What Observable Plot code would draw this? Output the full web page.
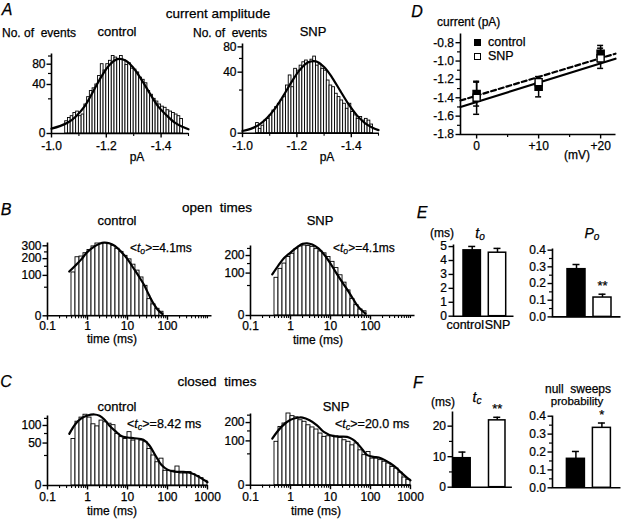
<!DOCTYPE html>
<html>
<head>
<meta charset="utf-8">
<script src="https://cdn.jsdelivr.net/npm/d3@7"></script>
<script src="https://cdn.jsdelivr.net/npm/@observablehq/plot@0.6"></script>
<style>
  html, body { margin: 0; padding: 0; background: #fff; }
  #fig { position: relative; width: 624px; height: 520px; overflow: hidden; background: #fff;
         font-family: "Liberation Sans", Arial, Helvetica, sans-serif; color: #000; }
  .t { position: absolute; white-space: nowrap; line-height: 1; -webkit-text-stroke: 0.25px #000; }
  .p { position: absolute; }
  .p svg { display: block; }
  .p svg text { stroke: #000; stroke-width: 0.25px; }
  sub { font-size: 72%; vertical-align: -0.2em; line-height: 0; }
</style>
</head>
<body>
<div id="fig"></div>
<script>
// ================= DATA =================
// A: current amplitude histograms (pA bins, counts)
const ampBinEdges = [-1.05,-1.06,-1.07,-1.08,-1.09,-1.10,-1.11,-1.12,-1.13,-1.14,-1.15,-1.16,-1.17,-1.18,-1.19,-1.20,-1.21,-1.22,-1.23,-1.24,-1.25,-1.26,-1.27,-1.28,-1.29,-1.30,-1.31,-1.32,-1.33,-1.34,-1.35,-1.36,-1.37,-1.38,-1.39,-1.40,-1.41,-1.42,-1.43,-1.44,-1.45,-1.46,-1.47,-1.48];
const ampControlCounts = [2.5,4,5,7,8, 5,6,14,22,30, 34,40,55,80,66, 80,88,100,96,92, 100,90,78,82,70, 68,62,52,48,42, 30,25,20,17,14, 12,11,9,8,7, 6,5,3.5];
const ampSnpCounts = [1.1,0.2,0.6,1.7,2.2, 3.4,5.5,7.3,9.3,11.5, 13.9,24.4,35.8,22.7,44.5, 42,49,54,56.7,54, 58,63,49,51,44.5, 42,29.8,24.4,22.7,16.7, 14,11.5,9.3,6.4,9.3, 4.8,3.4,2.2,2.8,1.7, 2.2,1.7,0.8];
const ampFitX = [-1.00,-1.03,-1.06,-1.09,-1.12,-1.15,-1.18,-1.21,-1.24,-1.27,-1.30,-1.33,-1.36,-1.39,-1.42,-1.45,-1.48,-1.50];
const ampControlFit = [0.4,0.9,2,5,12,28,52,77,92,89,71,47,26,12,5.5,2,0.7,0.3];
const ampSnpFit = [0.05,0.2,0.75,2.5,6.6,15,28,42.7,53.6,55.4,47,33,19,9,3.5,1.1,0.3,0.1];
const ampTicks = [-1.0,-1.2,-1.4];
const ampTicksMinor = [-1.1,-1.3,-1.5];

// B/C: dwell-time histograms, log bins (ms)
const logBinEdges = [0.398,0.501,0.631,0.794,1,1.26,1.58,2.0,2.51,3.16,3.98,5.01,6.31,7.94,10,12.6,15.8,20.0,25.1,31.6,39.8,50.1,63.1,79.4,100,126,158,200,251,316,398,501,631,794,1000];
const openControlCounts = [115,210,215,240,265,295,320,318,325,315,300,275,250,220,195,160,125,90,55,17,8,3,1];
const openSnpCounts = [79,121,150,190,212,245,265,272,268,262,245,228,215,190,160,125,90,60,35,15,6,2,1];
const openFitT = [0.35,0.5,0.7,1.0,1.5,2.0,2.6,3.5,5,7,10,14,20,26,35,46,60,75];
const openControlFit = [120,155,195,250,295,318,328,322,295,250,197,140,90,58,25,8,1.5,0.2];
const openSnpFit = [94,140,185,220,262,285,290,280,250,205,150,100,60,38,18,6,1.5,0.2];
const closedControlCounts = [60,113,128,139,128,104,97,117,111,106,101,74,65,60,79,56,60,56,52,37,25,15,20,6,6,6,10,4,4,5,3.5,2.5,1.5,0.6];
const closedSnpCounts = [96,173,194,262,243,235,215,205,183,170,158,136,119,122,125,122,114,103,96,81,89,62,46,56,36,36,32,28,24,17,14,8,3,1.5];
const closedControlFitT = [0.35,0.5,0.7,1.0,1.5,2,2.6,3.5,5,7,10,15,25,35,50,70,100,150,250,400,600,1000];
const closedControlFit = [74,105,125,136,140,135,122,100,82,68,64,62,58,45,25,12,7,5.3,5.2,4.2,2.2,0.3];
const closedSnpFitT = [0.35,0.6,1.0,1.5,2.0,3.0,4.6,6.8,12,26,35,47,65,83,120,162,230,316,450,562,750,1000];
const closedSnpFit = [111,175,218,232,233,215,183,145,122,119,108,89,62,46,41,39,32,24,15,9,4,1.2];
const logTicks = [0.1,1,10,100];
const logTicksC = [0.1,1,10,100,1000];
const logDecades = [0.1,1,10,100];
const logMultipliers = [2,3,4,5,6,7,8,9];

// D: current-voltage
const ivVoltage = [0,10,20];
const ivControl = [-1.36,-1.28,-0.92];
const ivControlSem = [0.13,0.11,0.09];
const ivSnp = [-1.40,-1.23,-0.97];
const ivSnpSem = [0.18,0.06,0.11];
const ivFitV = [-2.6,22.4];
const ivFitControl = [-1.43,-0.92];
const ivFitSnp = [-1.50,-0.975];
const ivYTicks = [-0.8,-1.0,-1.2,-1.4,-1.6,-1.8];
const ivYMinor = [-0.9,-1.1,-1.3,-1.5,-1.7];
const ivXTicks = [0,10,20];
const ivXLabels = ["0","+10","+20"];
const ivXMinor = [5,15];

// E/F: summary bars
const groups = ["control","SNP"];
const toMean = [4.73,4.56], toSem = [0.28,0.31];
const poMean = [0.286,0.116], poSem = [0.028,0.02], poStars = ["","**"];
const tcMean = [9.5,21.9], tcSem = [2.0,1.0], tcStars = ["","**"];
const nullMean = [0.162,0.335], nullSem = [0.041,0.027], nullStars = ["","*"];

// ================= LAYOUT =================
const FONT = '"Liberation Sans", Arial, Helvetica, sans-serif';
const fig = document.getElementById("fig");
const M = {l: 46, r: 14, t: 14, b: 30};
const FR = {
  ampCtl: {L: 51, T: 53, W: 137, H: 80},
  ampSnp: {L: 242, T: 43.3, W: 136, H: 89.7},
  openCtl: {L: 46.7, T: 241.7, W: 164, H: 73.3},
  openSnp: {L: 250, T: 245, W: 164, H: 70},
  closCtl: {L: 46.7, T: 415, W: 160, H: 70},
  closSnp: {L: 250, T: 413.3, W: 160, H: 71.7},
  iv: {L: 460, T: 33, W: 155, H: 101},
  to: {L: 453.3, T: 244, W: 60, H: 71.7},
  po: {L: 551.7, T: 248.3, W: 68, H: 68.4},
  tc: {L: 452.3, T: 411, W: 59.4, H: 75.7},
  nul: {L: 552.3, T: 415, W: 68, H: 72.3}
};

function makePlot(fr, spec) {
  const svg = Plot.plot({
    width: M.l + fr.W + M.r,
    height: M.t + fr.H + M.b,
    marginLeft: M.l, marginRight: M.r, marginTop: M.t, marginBottom: M.b,
    style: {background: "none", overflow: "visible", fontFamily: FONT, fontSize: "12px", color: "#000", maxWidth: "none"},
    ...spec
  });
  const wrap = document.createElement("div");
  wrap.className = "p";
  wrap.style.left = (fr.L - M.l) + "px";
  wrap.style.top = (fr.T - M.t) + "px";
  wrap.appendChild(svg);
  fig.appendChild(wrap);
}
function axisLines(fr) {
  const s = fr.W + fr.H;
  return Plot.frame({stroke: "#000", strokeWidth: 1.6, strokeDasharray: `0 ${s} ${s}`});
}
const blank = () => "";

function histPanel(fr, o) {
  const bins = o.vals.map((v, i) => ({x1: o.edges[i], x2: o.edges[i + 1], v}));
  const fit = o.fitX.map((x, i) => ({x, v: o.fitY[i]}));
  makePlot(fr, {
    x: {type: o.xType, domain: o.xDomain},
    y: {type: "sqrt", domain: [0, o.yMax]},
    marks: [
      Plot.rectY(bins, {x1: "x1", x2: "x2", y1: 0, y2: "v", fill: "white", stroke: "black", strokeWidth: 0.9}),
      Plot.line(fit, {x: "x", y: "v", stroke: "black", strokeWidth: 2.2, curve: "catmull-rom"}),
      axisLines(fr),
      Plot.axisY({ticks: o.yTicks, tickSize: 4.5, tickPadding: 1.5, strokeWidth: 1.4, label: null}),
      Plot.axisY({ticks: o.yMinor, tickSize: 3, tickFormat: blank, strokeWidth: 1.2, label: null}),
      Plot.axisX({ticks: o.xTicks, tickSize: 4.5, tickPadding: o.xPad ?? 2.5, tickFormat: o.xFmt, strokeWidth: 1.4, label: null}),
      Plot.axisX({ticks: o.xMinor, tickSize: 3, tickFormat: blank, strokeWidth: 1.1, label: null})
    ]
  });
}

const fmt1 = d => d.toFixed(1);
const logFmt = d => String(d);
const logMinor = logDecades.flatMap(d => logMultipliers.map(m => +(d * m).toPrecision(3)));

// A
histPanel(FR.ampCtl, {edges: ampBinEdges, vals: ampControlCounts, fitX: ampFitX, fitY: ampControlFit,
  xType: "linear", xDomain: [-1.0, -1.5], yMax: 106.6, yTicks: [0,40,80], yMinor: [20,60,100],
  xTicks: ampTicks, xMinor: ampTicksMinor, xFmt: fmt1, xPad: 3.8});
histPanel(FR.ampSnp, {edges: ampBinEdges, vals: ampSnpCounts, fitX: ampFitX, fitY: ampSnpFit,
  xType: "linear", xDomain: [-1.0, -1.5], yMax: 86.4, yTicks: [0,40,80], yMinor: [20,60],
  xTicks: ampTicks, xMinor: ampTicksMinor, xFmt: fmt1, xPad: 3.8});
// B
histPanel(FR.openCtl, {edges: logBinEdges, vals: openControlCounts, fitX: openFitT, fitY: openControlFit,
  xType: "log", xDomain: [0.1, 1259], yMax: 329, yTicks: [0,100,200,300], yMinor: [50,150,250],
  xTicks: logTicks, xMinor: logMinor.concat([1000]), xFmt: logFmt, xPad: 1.5});
histPanel(FR.openSnp, {edges: logBinEdges, vals: openSnpCounts, fitX: openFitT, fitY: openSnpFit,
  xType: "log", xDomain: [0.1, 1259], yMax: 272.5, yTicks: [0,100,200], yMinor: [50,150,250],
  xTicks: logTicks, xMinor: logMinor.concat([1000]), xFmt: logFmt, xPad: 1.5});
// C
histPanel(FR.closCtl, {edges: logBinEdges, vals: closedControlCounts, fitX: closedControlFitT, fitY: closedControlFit,
  xType: "log", xDomain: [0.1, 1000], yMax: 136, yTicks: [0,50,100], yMinor: [25,75,125],
  xTicks: logTicksC, xMinor: logMinor, xFmt: logFmt});
histPanel(FR.closSnp, {edges: logBinEdges, vals: closedSnpCounts, fitX: closedSnpFitT, fitY: closedSnpFit,
  xType: "log", xDomain: [0.1, 1000], yMax: 262, yTicks: [0,100,200], yMinor: [50,150,250],
  xTicks: logTicksC, xMinor: logMinor, xFmt: logFmt});

// D
(function () {
  const fr = FR.iv;
  const ctl = ivVoltage.map((v, i) => ({v, y: ivControl[i], e: ivControlSem[i]}));
  const snp = ivVoltage.map((v, i) => ({v, y: ivSnp[i], e: ivSnpSem[i]}));
  const fitC = ivFitV.map((v, i) => ({v, y: ivFitControl[i]}));
  const fitS = ivFitV.map((v, i) => ({v, y: ivFitSnp[i]}));
  const cap = 3 * 25 / fr.W; // half cap width (px) in mV
  const errMarks = rows => [
    Plot.ruleX(rows, {x: "v", y1: d => d.y - d.e, y2: d => d.y + d.e, strokeWidth: 1.5}),
    Plot.ruleY(rows, {y: d => d.y + d.e, x1: d => d.v - cap, x2: d => d.v + cap, strokeWidth: 1.5}),
    Plot.ruleY(rows, {y: d => d.y - d.e, x1: d => d.v - cap, x2: d => d.v + cap, strokeWidth: 1.5})
  ];
  makePlot(fr, {
    x: {domain: [-2.6, 22.4]},
    y: {domain: [-1.8, -0.7]},
    marks: [
      Plot.line(fitS, {x: "v", y: "y", strokeWidth: 2.2}),
      Plot.line(fitC, {x: "v", y: "y", strokeWidth: 2.2, strokeDasharray: "5,3"}),
      ...errMarks(ctl), ...errMarks(snp),
      Plot.dot(ctl, {x: "v", y: "y", symbol: "square", r: 4, fill: "black", stroke: "black"}),
      Plot.dot(snp, {x: "v", y: "y", symbol: "square", r: 4, fill: "white", stroke: "black", strokeWidth: 1.4}),
      axisLines(fr),
      Plot.axisY({ticks: ivYTicks, tickSize: 4.5, tickPadding: 2, tickFormat: fmt1, strokeWidth: 1.4, label: null}),
      Plot.axisY({ticks: ivYMinor, tickSize: 3, tickFormat: blank, strokeWidth: 1.2, label: null}),
      Plot.axisX({ticks: ivXTicks, tickSize: 4.5, tickPadding: 2, tickFormat: d => ivXLabels[ivXTicks.indexOf(d)], strokeWidth: 1.4, label: null}),
      Plot.axisX({ticks: ivXMinor, tickSize: 3, tickFormat: blank, strokeWidth: 1.2, label: null})
    ]
  });
})();

// E / F
function barPanel(fr, o) {
  const svgL = fr.L - M.l;
  const step = (o.bars[1] - o.bars[0]) - o.bw;
  const rows = groups.map((g, i) => ({g, v: o.mean[i], e: o.sem[i], s: o.stars ? o.stars[i] : ""}));
  const capInset = (o.bw - 7) / 2;
  const marks = [
    Plot.ruleX(rows, {x: "g", y1: "v", y2: d => d.v + d.e, strokeWidth: 1.5}),
    Plot.tickY(rows, {x: "g", y: d => d.v + d.e, insetLeft: capInset, insetRight: capInset, strokeWidth: 1.5}),
    Plot.barY(rows.filter(d => d.g === "control"), {x: "g", y1: 0, y2: "v", fill: "black", stroke: "black", strokeWidth: 1.5}),
    Plot.barY(rows.filter(d => d.g === "SNP"), {x: "g", y1: 0, y2: "v", fill: "white", stroke: "black", strokeWidth: 1.5}),
    Plot.text(rows.filter(d => d.s), {x: "g", y: d => d.v + d.e, text: "s", dy: o.starDy || -8, fontSize: 13}),
    axisLines(fr),
    Plot.axisY({ticks: o.yTicks, tickSize: 4.5, tickPadding: 2, tickFormat: o.fmt, strokeWidth: 1.4, label: null}),
    o.yMinor ? Plot.axisY({ticks: o.yMinor, tickSize: 3, tickFormat: blank, strokeWidth: 1.2, label: null}) : null
  ];
  if (o.xLabels) {
    marks.push(Plot.axisX({ticks: ["control"], tickSize: 0, tickPadding: 4, label: null, fontSize: 12.5, dx: -7}));
    marks.push(Plot.axisX({ticks: ["SNP"], tickSize: 0, tickPadding: 4, label: null, fontSize: 12.5, dx: 0}));
  }
  makePlot(fr, {
    x: {type: "band", domain: groups, range: [o.bars[0] - svgL, o.bars[1] - svgL],
        paddingInner: 1 - o.bw / step, paddingOuter: 0, align: 0.5, round: false, axis: o.xLabels ? undefined : null},
    y: {domain: [0, o.yMax], axis: null},
    marks
  });
}
barPanel(FR.to, {mean: toMean, sem: toSem, bars: [463.3, 506], bw: 17.4, yMax: 5.15,
  yTicks: [0,1,2,3,4,5], fmt: d => String(d), xLabels: true});
barPanel(FR.po, {mean: poMean, sem: poSem, stars: poStars, bars: [566.7, 610.7], bw: 18, yMax: 0.41,
  yTicks: [0,0.1,0.2,0.3,0.4], yMinor: [0.05,0.15,0.25,0.35], fmt: fmt1});
barPanel(FR.tc, {mean: tcMean, sem: tcSem, stars: tcStars, bars: [454, 505.3], bw: 16.5, yMax: 24.8,
  yTicks: [0,10,20], yMinor: [5,15], fmt: d => String(d)});
barPanel(FR.nul, {mean: nullMean, sem: nullSem, stars: nullStars, bars: [566.7, 610.7], bw: 18, yMax: 0.404,
  yTicks: [0,0.1,0.2,0.3,0.4], yMinor: [0.05,0.15,0.25,0.35], fmt: fmt1, starDy: -8});

// ================= TEXT =================
function txt(html, x, y, o = {}) {
  const d = document.createElement("div");
  d.className = "t";
  d.innerHTML = html;
  d.style.left = x + "px";
  d.style.top = y + "px";
  d.style.fontSize = (o.size || 12) + "px";
  if (o.italic) d.style.fontStyle = "italic";
  d.style.transform = o.anchor === "start" ? "translate(0,-50%)" : "translate(-50%,-50%)";
  fig.appendChild(d);
}
// panel letters
[["A",7,10],["B",6,210],["C",6,382],["D",417,12],["E",422,213],["F",418,383]]
  .forEach(([s,x,y]) => txt(s, x, y, {size: 16, italic: true}));
// section titles
txt("current amplitude", 218, 14, {size: 13.5});
txt("open&nbsp; times", 217, 208, {size: 13.5});
txt("closed&nbsp; times", 217, 382, {size: 13.5});
// A
txt("No. of&nbsp; events", 2, 33, {size: 12, anchor: "start"});
txt("No. of&nbsp; events", 193, 33, {size: 12, anchor: "start"});
txt("control", 117, 31, {size: 13});
txt("SNP", 313, 31, {size: 13});
txt("pA", 137, 157, {size: 12});
txt("pA", 327, 157, {size: 12});
// B
txt("control", 117, 220, {size: 13});
txt("SNP", 320, 220, {size: 13});
txt("&lt;<i>t<sub>o</sub></i>&gt;=4.1ms", 130, 248, {size: 12, anchor: "start"});
txt("&lt;<i>t<sub>o</sub></i>&gt;=4.1ms", 333, 248, {size: 12, anchor: "start"});
txt("time (ms)", 112, 339, {size: 12});
txt("time (ms)", 318, 340, {size: 12});
// C
txt("control", 117, 406, {size: 13});
txt("SNP", 336, 406, {size: 13});
txt("&lt;<i>t<sub>c</sub></i>&gt;=8.42 ms", 127, 424, {size: 12.5, anchor: "start"});
txt("&lt;<i>t<sub>c</sub></i>&gt;=20.0 ms", 335, 424, {size: 12.5, anchor: "start"});
txt("time (ms)", 112, 511, {size: 12});
txt("time (ms)", 316, 511, {size: 12});
// D
txt("current (pA)", 437, 22, {size: 12, anchor: "start"});
txt("(mV)", 577, 155, {size: 12});
function box(x, y, filled) {
  const b = document.createElement("div");
  b.className = "t";
  Object.assign(b.style, {left: (x - 3.5) + "px", top: (y - 3.5) + "px", width: "7px", height: "7px",
    boxSizing: "border-box", border: "1.4px solid #000", background: filled ? "#000" : "#fff"});
  fig.appendChild(b);
}
box(477, 42, true); box(477, 56, false);
txt("control", 488, 42, {size: 12.5, anchor: "start"});
txt("SNP", 488, 56, {size: 12.5, anchor: "start"});
// E
txt("(ms)", 442, 233, {size: 12});
txt("<i>t<sub>o</sub></i>", 480, 233, {size: 14});
txt("<i>P<sub>o</sub></i>", 592, 233, {size: 14});
// F
txt("(ms)", 443, 402, {size: 12});
txt("<i>t<sub>c</sub></i>", 477, 397, {size: 14});
txt("null&nbsp; sweeps", 578, 389, {size: 12});
txt("probability", 577, 402, {size: 11.5});
</script>
</body>
</html>
